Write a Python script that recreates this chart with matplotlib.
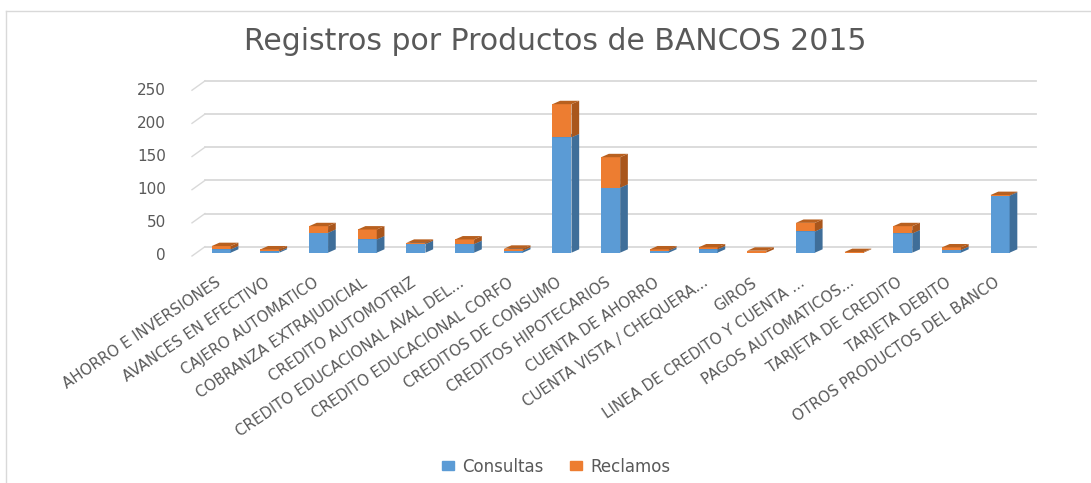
import matplotlib.pyplot as plt
from matplotlib.patches import Polygon, Patch
from matplotlib.lines import Line2D
from matplotlib.transforms import ScaledTranslation

categories = [
    "AHORRO E INVERSIONES", "AVANCES EN EFECTIVO", "CAJERO AUTOMATICO",
    "COBRANZA EXTRAJUDICIAL", "CREDITO AUTOMOTRIZ", "CREDITO EDUCACIONAL AVAL DEL...",
    "CREDITO EDUCACIONAL CORFO", "CREDITOS DE CONSUMO", "CREDITOS HIPOTECARIOS",
    "CUENTA DE AHORRO", "CUENTA VISTA / CHEQUERA...", "GIROS",
    "LINEA DE CREDITO Y CUENTA ...", "PAGOS AUTOMATICOS...", "TARJETA DE CREDITO",
    "TARJETA DEBITO", "OTROS PRODUCTOS DEL BANCO",
]
consultas = [5, 2, 30, 20, 13, 13, 3, 174, 98, 3, 5, 0, 32, 0, 29, 4, 86]
reclamos = [5, 3, 10, 15, 2, 7, 3, 50, 46, 2, 3, 3, 13, 1, 11, 4, 1]
yticks = [0, 50, 100, 150, 200, 250]
title = "Registros por Productos de BANCOS 2015"

W, H = 1091, 483
gray = "#595959"
grid_c = "#D9D9D9"
blue, blue_side, blue_top = "#5B9BD5", "#3F6E99", "#4A86BD"
orange, orange_side, orange_top = "#ED7D31", "#A9561C", "#B8601F"

fig = plt.figure(figsize=(W / 100, H / 100), dpi=100)
ax = fig.add_axes([192 / W, (H - 252.7) / H, 831 / W, 172.4 / H])
xl, xr = -0.6, 16.47
ax.set_xlim(xl, xr)
ax.set_ylim(0, 260)
for s in ax.spines.values():
    s.set_visible(False)
ax.set_yticks([])

# pixel -> data units
ux = (xr - xl) / 831
uy = 260 / 172.4

x = list(range(len(categories)))
ax.set_xticks(x)
ax.set_xticklabels(categories, rotation=34, ha="right", rotation_mode="anchor",
                   fontsize=10.8, color=gray)
ax.tick_params(axis="x", length=0, pad=16)
shift = ScaledTranslation(-6 / 100, 0, fig.dpi_scale_trans)
for lbl in ax.get_xticklabels():
    lbl.set_transform(lbl.get_transform() + shift)

# back wall gridlines with slanted stubs
gdx, gdy = 13 * ux, 6 * uy
for v in yticks:
    ax.plot([xl, xl + gdx], [v - 3.3 * uy, v + gdy], color=grid_c, lw=1,
            clip_on=False, zorder=1)
    ax.plot([xl + gdx, xr + gdx], [v + gdy, v + gdy], color=grid_c, lw=1.3,
            clip_on=False, zorder=1)
    ax.annotate(str(v), xy=(xl, v - 3.3 * uy), xytext=(-26 * 0.72, 0),
                textcoords="offset points", ha="right", va="center",
                fontsize=11, color=gray, annotation_clip=False)

# 3d-looking stacked bars
w = 19 / 48.7
bdx, bdy = 7.7 * ux, 3.4 * uy
series = [
    (consultas, [0] * len(consultas), blue, blue_side, blue_top, 3),
    (reclamos, consultas, orange, orange_side, orange_top, 6),
]
for vals, bottoms, front, side, top, z in series:
    ax.bar(x, vals, w, bottom=bottoms, color=front, zorder=z, clip_on=False)
    for xi, b, v in zip(x, bottoms, vals):
        if v <= 0:
            continue
        r = xi + w / 2
        ax.add_patch(Polygon([(r, b), (r + bdx, b + bdy), (r + bdx, b + v + bdy), (r, b + v)],
                             closed=True, facecolor=side, edgecolor="none",
                             zorder=z + 1, clip_on=False))
        ax.add_patch(Polygon([(xi - w / 2, b + v), (xi - w / 2 + bdx, b + v + bdy),
                              (r + bdx, b + v + bdy), (r, b + v)],
                             closed=True, facecolor=top, edgecolor="none",
                             zorder=z + 1, clip_on=False))

fig.text(555.5 / W, 1 - 50 / H, title, ha="center", va="baseline",
         fontsize=21.5, color=gray)

fig.legend(handles=[Patch(color=blue, label="Consultas"),
                    Patch(color=orange, label="Reclamos")],
           loc="center", bbox_to_anchor=(556.5 / W, 1 - 466.5 / H), ncol=2,
           frameon=False, fontsize=12, handlelength=0.7, handleheight=0.5,
           handletextpad=0.5, columnspacing=1.6, labelcolor=gray)

# chart border
fig.add_artist(Line2D([6 / W, 6 / W], [0, 1 - 11 / H], color=grid_c, lw=1,
                      transform=fig.transFigure))
fig.add_artist(Line2D([6 / W, 1], [1 - 11 / H, 1 - 11 / H], color=grid_c, lw=1,
                      transform=fig.transFigure))

fig.savefig("out.png", dpi=100)
